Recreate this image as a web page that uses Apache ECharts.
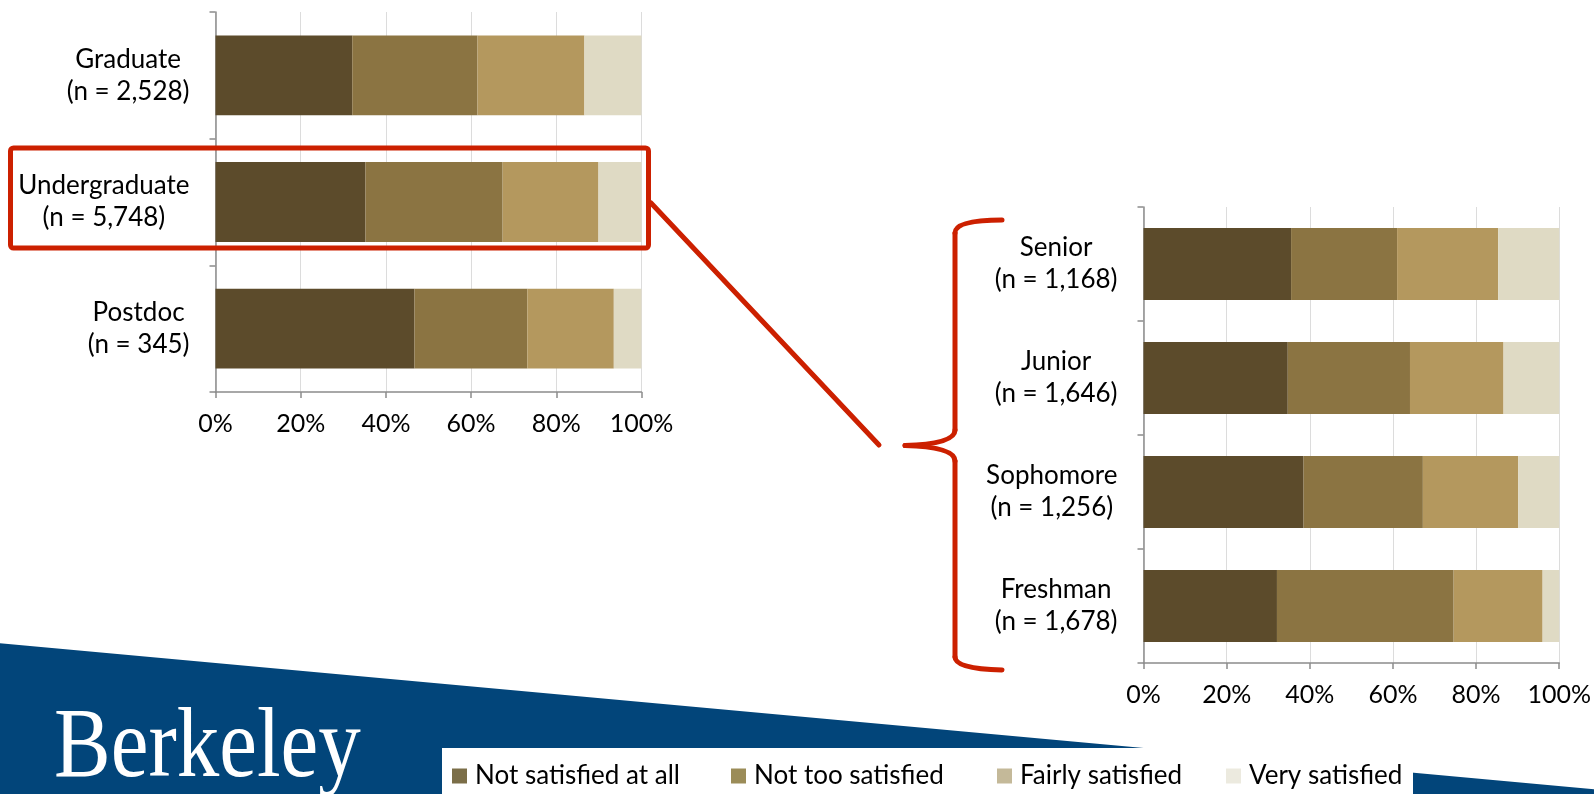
<!DOCTYPE html>
<html><head><meta charset="utf-8">
<script src="https://cdn.jsdelivr.net/npm/echarts@6/dist/echarts.min.js"></script>
<style>html,body{margin:0;padding:0;background:#fff}#c{width:1594px;height:794px}</style>
</head><body><div id="c"></div>
<script>
// ---- data ----
const seriesNames = ['Not satisfied at all', 'Not too satisfied', 'Fairly satisfied', 'Very satisfied'];

const groupCats = ['Graduate', 'Undergraduate', 'Postdoc'];
const groupN = ['2,528', '5,748', '345'];
const groupNotAtAll = [32.1, 35.2, 46.7];
const groupNotToo = [29.4, 32.2, 26.5];
const groupFairly = [25.1, 22.5, 20.3];
const groupVery = [13.4, 10.1, 6.5];

const classCats = ['Senior', 'Junior', 'Sophomore', 'Freshman'];
const classN = ['1,168', '1,646', '1,256', '1,678'];
const classNotAtAll = [35.5, 34.7, 38.5, 32.1];
const classNotToo = [25.5, 29.4, 28.7, 42.5];
const classFairly = [24.3, 22.5, 22.9, 21.4];
const classVery = [14.7, 13.4, 9.9, 4.0];

// ---- styles ----
const barColors = ['#5C4B2B', '#8B7442', '#B4985E', '#DFDAC4'];
const legendColors = ['#7B6E48', '#9B8C58', '#C4B999', '#ECEADF'];
const FONT = 'Lato';
const axisGray = '#8c8c8c';
const red = '#CC2000';

function xAxisFor(gi) {
  return {
    gridIndex: gi, type: 'value', min: 0, max: 100, interval: 20,
    axisLabel: { formatter: '{value}%', fontFamily: FONT, fontSize: 25, color: '#000', margin: 19 },
    axisLine: { show: true, lineStyle: { color: axisGray, width: 1.5 } },
    axisTick: { show: true, length: 6, lineStyle: { color: axisGray, width: 1.5 } },
    splitLine: { show: true, lineStyle: { color: '#dcdcdc', width: 1 } }
  };
}
function yAxisFor(gi, cats, ns) {
  return {
    gridIndex: gi, type: 'category', inverse: true, data: cats,
    axisLine: { show: true, lineStyle: { color: axisGray, width: 1.5 } },
    axisTick: { show: true, length: 6, lineStyle: { color: axisGray, width: 1.5 } },
    splitLine: { show: false },
    axisLabel: {
      margin: 26, align: 'right',
      formatter: function (v, i) { return '{a|' + v + '}\n{a|(n = ' + ns[i] + ')}'; },
      rich: { a: { align: 'center', fontFamily: FONT, fontSize: 26, lineHeight: 32, color: '#000' } }
    }
  };
}
function barSeries(name, gi, data, ci) {
  return {
    name: name, type: 'bar', stack: 's' + gi, xAxisIndex: gi, yAxisIndex: gi,
    data: data, barCategoryGap: '37%', itemStyle: { color: barColors[ci] },
    emphasis: { disabled: true }
  };
}

const groupData = [groupNotAtAll, groupNotToo, groupFairly, groupVery];
const classData = [classNotAtAll, classNotToo, classFairly, classVery];
const series = [];
seriesNames.forEach((n, i) => series.push(barSeries(n, 0, groupData[i], i)));
seriesNames.forEach((n, i) => series.push(barSeries(n, 1, classData[i], i)));

const legendLefts = [452, 731, 997, 1226];
const legends = seriesNames.map((n, i) => ({
  left: legendLefts[i], top: 763, padding: 0, itemWidth: 15, itemHeight: 15,
  icon: 'rect', z: 20,
  data: [{ name: n, itemStyle: { color: legendColors[i] } }],
  textStyle: { fontFamily: FONT, fontSize: 26, color: '#000', padding: [0, 0, 0, 3] }
}));

const redStyle = { fill: 'none', stroke: red, lineWidth: 5, lineCap: 'round' };
const option = {
  animation: false,
  backgroundColor: '#fff',
  grid: [
    { left: 215.5, top: 12, width: 426, height: 380 },
    { left: 1143.5, top: 207, width: 419, height: 456 }
  ],
  xAxis: [xAxisFor(0), xAxisFor(1)],
  yAxis: [yAxisFor(0, groupCats, groupN), yAxisFor(1, classCats, classN)],
  legend: legends,
  series: series,
  graphic: [
    { type: 'polygon', z: -10, silent: true,
      shape: { points: [[0, 643.3], [1594, 789.2], [1594, 794], [0, 794]] },
      style: { fill: '#02457A' } },
    { type: 'rect', z: 5, silent: true,
      shape: { x: 442, y: 748, width: 971, height: 46 },
      style: { fill: '#fff' } },
    { type: 'text', z: 6, silent: true, x: 54, y: 750, scaleX: 0.85,
      style: { text: 'Berkeley', fill: '#fff', fontFamily: 'Liberation Serif', fontSize: 100, verticalAlign: 'middle', align: 'left' } },
    { type: 'rect', z: 30, silent: true,
      shape: { x: 10.5, y: 148, width: 638, height: 100, r: 3 },
      style: { fill: 'none', stroke: red, lineWidth: 5 } },
    { type: 'line', z: 30, silent: true,
      shape: { x1: 651, y1: 203, x2: 879, y2: 445 }, style: redStyle },
    { type: 'bezierCurve', z: 30, silent: true,
      shape: { x1: 1002, y1: 220, cpx1: 955, cpy1: 220, x2: 955, y2: 233 }, style: redStyle },
    { type: 'line', z: 30, silent: true,
      shape: { x1: 955, y1: 233, x2: 955, y2: 430 }, style: redStyle },
    { type: 'bezierCurve', z: 30, silent: true,
      shape: { x1: 955, y1: 430, cpx1: 955, cpy1: 444, x2: 905, y2: 445.5 }, style: redStyle },
    { type: 'bezierCurve', z: 30, silent: true,
      shape: { x1: 905, y1: 445.5, cpx1: 955, cpy1: 447, x2: 955, y2: 461 }, style: redStyle },
    { type: 'line', z: 30, silent: true,
      shape: { x1: 955, y1: 461, x2: 955, y2: 657 }, style: redStyle },
    { type: 'bezierCurve', z: 30, silent: true,
      shape: { x1: 955, y1: 657, cpx1: 955, cpy1: 669, x2: 1002, y2: 670 }, style: redStyle }
  ]
};
const chart = echarts.init(document.getElementById('c'), null, { renderer: 'canvas' });
chart.setOption(option);
</script>
</body></html>
